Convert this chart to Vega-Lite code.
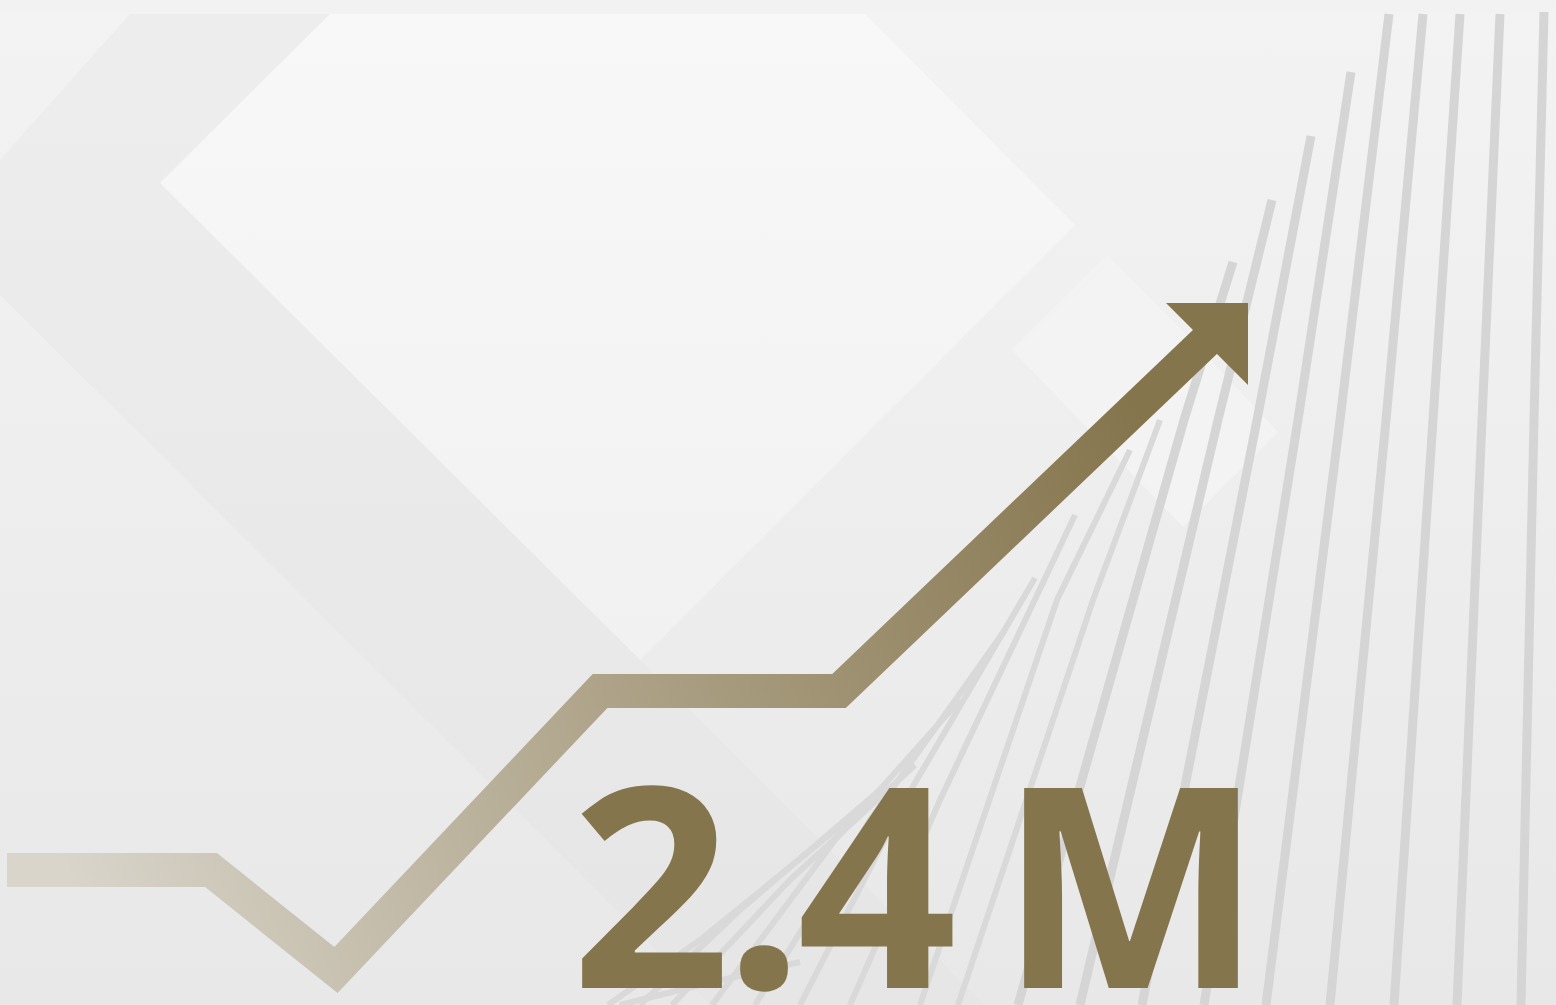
{
  "$schema": "https://vega.github.io/schema/vega-lite/v6.json",
  "width": 1556,
  "height": 1005,
  "padding": 0,
  "autosize": {"type": "none"},
  "background": "#f1f2f1",
  "config": {"view": {"stroke": null}},
  "datasets": {
    "bg": [{"x0": 0, "x1": 1556, "y0": 13, "y1": 1005}],
    "band": [
      {"x": 0, "y": 160, "y2": 295},
      {"x": 130, "y": 14, "y2": 424},
      {"x": 330, "y": 14, "y2": 624},
      {"x": 640, "y": 660, "y2": 934},
      {"x": 710, "y": 730, "y2": 1005},
      {"x": 985, "y": 1005, "y2": 1005}
    ],
    "bigDiamond": [
      {"x": 160, "y": 183, "y2": 183},
      {"x": 330, "y": 14, "y2": 352},
      {"x": 640, "y": 14, "y2": 660},
      {"x": 865, "y": 14, "y2": 435},
      {"x": 1075, "y": 225, "y2": 225}
    ],
    "smallDiamond": [
      {"x": 1012, "y": 350, "y2": 350},
      {"x": 1107, "y": 255, "y2": 448},
      {"x": 1183, "y": 331, "y2": 527},
      {"x": 1278, "y": 432, "y2": 432}
    ],
    "thick": [
      {"id": "A", "s": 0, "x": 1544, "y": 12}, {"id": "A", "s": 1, "x": 1534, "y": 420}, {"id": "A", "s": 2, "x": 1521, "y": 1005},
      {"id": "B", "s": 0, "x": 1500, "y": 14}, {"id": "B", "s": 1, "x": 1482, "y": 420}, {"id": "B", "s": 2, "x": 1457, "y": 1005},
      {"id": "C", "s": 0, "x": 1460, "y": 14}, {"id": "C", "s": 1, "x": 1433, "y": 420}, {"id": "C", "s": 2, "x": 1394, "y": 1005},
      {"id": "D", "s": 0, "x": 1423, "y": 14}, {"id": "D", "s": 1, "x": 1386, "y": 420}, {"id": "D", "s": 2, "x": 1330, "y": 1005},
      {"id": "E", "s": 0, "x": 1389, "y": 14}, {"id": "E", "s": 1, "x": 1340, "y": 420}, {"id": "E", "s": 2, "x": 1266, "y": 1005},
      {"id": "F", "s": 0, "x": 1351, "y": 72}, {"id": "F", "s": 1, "x": 1298, "y": 420}, {"id": "F", "s": 2, "x": 1204, "y": 1005},
      {"id": "G", "s": 0, "x": 1311, "y": 136}, {"id": "G", "s": 1, "x": 1257, "y": 420}, {"id": "G", "s": 2, "x": 1142, "y": 1005},
      {"id": "H", "s": 0, "x": 1272, "y": 200}, {"id": "H", "s": 1, "x": 1218, "y": 420}, {"id": "H", "s": 2, "x": 1080, "y": 1005},
      {"id": "I", "s": 0, "x": 1233, "y": 262}, {"id": "I", "s": 1, "x": 1184, "y": 420}, {"id": "I", "s": 2, "x": 1018, "y": 1005}
    ],
    "thin": [
      {"id": "J", "s": 0, "x": 1160, "y": 420}, {"id": "J", "s": 1, "x": 1093, "y": 600}, {"id": "J", "s": 2, "x": 958, "y": 1005},
      {"id": "K", "s": 0, "x": 1130, "y": 450}, {"id": "K", "s": 1, "x": 1057, "y": 600}, {"id": "K", "s": 2, "x": 920, "y": 1005},
      {"id": "L", "s": 0, "x": 1075, "y": 515}, {"id": "L", "s": 1, "x": 940, "y": 800}, {"id": "L", "s": 2, "x": 850, "y": 1005},
      {"id": "M", "s": 0, "x": 1035, "y": 578}, {"id": "M", "s": 1, "x": 905, "y": 800}, {"id": "M", "s": 2, "x": 800, "y": 1005},
      {"id": "N", "s": 0, "x": 1005, "y": 630}, {"id": "N", "s": 1, "x": 870, "y": 820}, {"id": "N", "s": 2, "x": 755, "y": 1005},
      {"id": "O", "s": 0, "x": 960, "y": 700}, {"id": "O", "s": 1, "x": 835, "y": 840}, {"id": "O", "s": 2, "x": 712, "y": 1005},
      {"id": "P", "s": 0, "x": 915, "y": 765}, {"id": "P", "s": 1, "x": 790, "y": 880}, {"id": "P", "s": 2, "x": 672, "y": 1005},
      {"id": "Q", "s": 0, "x": 880, "y": 790}, {"id": "Q", "s": 1, "x": 740, "y": 910}, {"id": "Q", "s": 2, "x": 640, "y": 1005},
      {"id": "R", "s": 0, "x": 860, "y": 810}, {"id": "R", "s": 1, "x": 700, "y": 940}, {"id": "R", "s": 2, "x": 608, "y": 1005},
      {"id": "T", "s": 0, "x": 800, "y": 962}, {"id": "T", "s": 1, "x": 700, "y": 985}, {"id": "T", "s": 2, "x": 620, "y": 1005}
    ],
    "trend": [
      {"s": 0, "x": 7, "y": 870},
      {"s": 1, "x": 211, "y": 870},
      {"s": 2, "x": 336, "y": 970},
      {"s": 3, "x": 600, "y": 691},
      {"s": 4, "x": 839, "y": 691},
      {"s": 5, "x": 1207, "y": 340}
    ],
    "head": [
      {"x": 1166, "y": 303, "y2": 303},
      {"x": 1248, "y": 303, "y2": 385}
    ],
    "label": [
      {"t": "2", "x": 651, "y": 988},
      {"t": ".", "x": 764, "y": 988},
      {"t": "4", "x": 877, "y": 988},
      {"t": "M", "x": 1131, "y": 988}
    ]
  },
  "layer": [
    {
      "data": {"name": "bg"},
      "mark": {"type": "rect", "fill": {"gradient": "linear", "x1": 0, "y1": 0, "x2": 0, "y2": 1, "stops": [{"offset": 0, "color": "#f3f3f3"}, {"offset": 1, "color": "#e8e8e8"}]}},
      "encoding": {
        "x": {"field": "x0", "type": "quantitative", "scale": {"domain": [0, 1556], "nice": false, "zero": false}, "axis": null},
        "x2": {"field": "x1"},
        "y": {"field": "y0", "type": "quantitative", "scale": {"domain": [0, 1005], "nice": false, "zero": false, "reverse": true}, "axis": null},
        "y2": {"field": "y1"}
      }
    },
    {
      "data": {"name": "band"},
      "mark": {"type": "area", "orient": "vertical", "fill": "#e0e0e0", "opacity": 0.3},
      "encoding": {
        "x": {"field": "x", "type": "quantitative"},
        "y": {"field": "y", "type": "quantitative"},
        "y2": {"field": "y2"}
      }
    },
    {
      "data": {"name": "bigDiamond"},
      "mark": {"type": "area", "orient": "vertical", "fill": {"gradient": "linear", "x1": 0, "y1": 0, "x2": 0, "y2": 1, "stops": [{"offset": 0, "color": "#f8f8f8"}, {"offset": 1, "color": "#f1f1f1"}]}},
      "encoding": {
        "x": {"field": "x", "type": "quantitative"},
        "y": {"field": "y", "type": "quantitative"},
        "y2": {"field": "y2"}
      }
    },
    {
      "data": {"name": "smallDiamond"},
      "mark": {"type": "area", "orient": "vertical", "fill": "#f3f3f3"},
      "encoding": {
        "x": {"field": "x", "type": "quantitative"},
        "y": {"field": "y", "type": "quantitative"},
        "y2": {"field": "y2"}
      }
    },
    {
      "data": {"name": "thick"},
      "mark": {"type": "line", "stroke": "#d5d5d5", "strokeWidth": 9, "strokeCap": "butt", "clip": true},
      "encoding": {
        "x": {"field": "x", "type": "quantitative"},
        "y": {"field": "y", "type": "quantitative"},
        "detail": {"field": "id"},
        "order": {"field": "s"}
      }
    },
    {
      "data": {"name": "thin"},
      "mark": {"type": "line", "stroke": "#d9d9d9", "strokeWidth": 6, "strokeCap": "butt", "clip": true},
      "encoding": {
        "x": {"field": "x", "type": "quantitative"},
        "y": {"field": "y", "type": "quantitative"},
        "detail": {"field": "id"},
        "order": {"field": "s"}
      }
    },
    {
      "data": {"name": "trend"},
      "mark": {"type": "line", "strokeWidth": 34, "strokeJoin": "miter", "strokeMiterLimit": 10, "strokeCap": "butt",
        "stroke": {"gradient": "linear", "x1": 0, "y1": 0.6, "x2": 1, "y2": 0.4, "stops": [{"offset": 0, "color": "#d9d5cb"}, {"offset": 0.5, "color": "#ada287"}, {"offset": 1, "color": "#85754d"}]}},
      "encoding": {
        "x": {"field": "x", "type": "quantitative"},
        "y": {"field": "y", "type": "quantitative"},
        "order": {"field": "s"}
      }
    },
    {
      "data": {"name": "head"},
      "mark": {"type": "area", "orient": "vertical", "fill": "#85754d"},
      "encoding": {
        "x": {"field": "x", "type": "quantitative"},
        "y": {"field": "y", "type": "quantitative"},
        "y2": {"field": "y2"}
      }
    },
    {
      "data": {"name": "label"},
      "mark": {"type": "text", "font": "Open Sans SemiCondensed, Open Sans", "fontWeight": 700, "fontSize": 280, "align": "center", "baseline": "alphabetic", "fill": "#85754d"},
      "encoding": {
        "x": {"field": "x", "type": "quantitative"},
        "y": {"field": "y", "type": "quantitative"},
        "text": {"field": "t"}
      }
    }
  ]
}
